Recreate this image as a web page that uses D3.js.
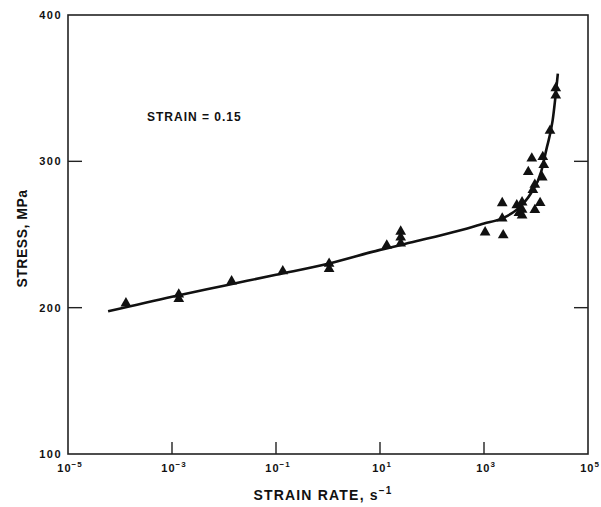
<!DOCTYPE html>
<html>
<head>
<meta charset="utf-8">
<script src="https://d3js.org/d3.v7.min.js"></script>
<style>
  body { margin: 0; background: #fff; }
  text { font-family: "Liberation Sans", Arial, sans-serif; font-weight: bold; fill: #111; }
</style>
</head>
<body>
<svg id="chart" width="601" height="507"></svg>
<script>
// fitted curve (strain rate s^-1, stress MPa)
const fitRate   = [5.9e-5, 1e-3, 1e-2, 0.1, 1, 10, 59, 250, 1000, 2240, 4270, 7940, 12600, 15800, 20900, 26300];
const fitStress = [197.5, 207.5, 215, 222.5, 230, 239.5, 246, 251.5, 257.5, 261, 267, 278, 293, 308, 328, 360];

// measured points
const ptRate   = [1.3e-4, 1.35e-3, 1.35e-3, 1.4e-2, 0.135, 1.05, 1.05, 13.5, 25, 25, 25,
                  1050, 2340, 2240, 2240, 4270, 4700, 5400, 5400, 5400, 7100, 8300, 8700, 9500, 9500,
                  12000, 13200, 13500, 14100, 18600, 24000, 24000];
const ptStress = [203, 209, 206, 218, 225, 230, 226.5, 242.5, 252, 248, 244,
                  251.5, 249.5, 271.5, 261, 270, 264.7, 272, 267, 263, 292.7, 302, 280.5, 284, 266.8,
                  271.6, 289, 303, 297.5, 321, 350, 345];

const xTicks = [1e-5, 1e-3, 1e-1, 1e1, 1e3, 1e5];
const yTicks = [100, 200, 300, 400];

const svg = d3.select('#chart');
const m = {left: 68, right: 588, top: 15, bottom: 454};

const x = d3.scaleLog().domain([1e-5, 1e5]).range([m.left, m.right]);
const y = d3.scaleLinear().domain([100, 400]).range([m.bottom, m.top]);

// frame
svg.append('rect')
  .attr('x', m.left).attr('y', m.top)
  .attr('width', m.right - m.left).attr('height', m.bottom - m.top)
  .attr('fill', 'none').attr('stroke', '#222').attr('stroke-width', 1.6);

// bottom ticks (inward) + labels
const xg = svg.append('g');
xg.selectAll('line')
  .data(xTicks.filter(d => d > 1e-5 && d < 1e5))
  .enter().append('line')
  .attr('x1', d => x(d)).attr('x2', d => x(d))
  .attr('y1', m.bottom).attr('y2', m.bottom - 12)
  .attr('stroke', '#222').attr('stroke-width', 1.4);

const xl = xg.selectAll('text')
  .data(xTicks)
  .enter().append('text')
  .attr('x', d => x(d) + 2)
  .attr('y', m.bottom + 18)
  .attr('text-anchor', 'middle')
  .style('font-size', '11px')
  .style('letter-spacing', '1px');
xl.append('tspan').text('10');
xl.append('tspan')
  .attr('dy', -5)
  .style('font-size', '8px')
  .text(d => d3.format('d')(Math.round(Math.log10(d))).replace('-', '\u2212'));

// left / right ticks (inward) + labels
const yg = svg.append('g');
yg.selectAll('line.l')
  .data(yTicks.filter(d => d > 100 && d < 400))
  .enter().append('line')
  .attr('x1', m.left).attr('x2', m.left + 14)
  .attr('y1', d => y(d)).attr('y2', d => y(d))
  .attr('stroke', '#222').attr('stroke-width', 1.4);
yg.selectAll('line.r')
  .data(yTicks.filter(d => d > 100 && d < 400))
  .enter().append('line')
  .attr('x1', m.right).attr('x2', m.right - 14)
  .attr('y1', d => y(d)).attr('y2', d => y(d))
  .attr('stroke', '#222').attr('stroke-width', 1.4);
yg.selectAll('text')
  .data(yTicks)
  .enter().append('text')
  .attr('x', m.left - 6)
  .attr('y', d => y(d) + 4)
  .attr('text-anchor', 'end')
  .style('font-size', '11px')
  .style('letter-spacing', '1.5px')
  .text(d => d);

// axis titles
svg.append('text')
  .attr('transform', `translate(27,${(m.top + m.bottom) / 2 + 4}) rotate(-90)`)
  .attr('text-anchor', 'middle')
  .style('font-size', '14px')
  .style('letter-spacing', '0.5px')
  .text('STRESS, MPa');

const xt = svg.append('text')
  .attr('x', 323).attr('y', 500)
  .attr('text-anchor', 'middle')
  .style('font-size', '14px')
  .style('letter-spacing', '1.2px');
xt.append('tspan').text('STRAIN RATE, s');
xt.append('tspan').attr('dy', -6).style('font-size', '10px').text('\u22121');

svg.append('text')
  .attr('x', 147).attr('y', 121)
  .style('font-size', '12px')
  .style('letter-spacing', '1px')
  .text('STRAIN = 0.15');

// fit line
const fit = fitRate.map((r, i) => [r, fitStress[i]]);
svg.append('path')
  .datum(fit)
  .attr('fill', 'none')
  .attr('stroke', '#111')
  .attr('stroke-width', 2.6)
  .attr('d', d3.line().x(d => x(d[0])).y(d => y(d[1])).curve(d3.curveMonotoneX));

// data triangles
const pts = ptRate.map((r, i) => [r, ptStress[i]]);
svg.append('g')
  .selectAll('path')
  .data(pts)
  .enter().append('path')
  .attr('transform', d => `translate(${x(d[0])},${y(d[1])})`)
  .attr('d', d3.symbol(d3.symbolTriangle, 50))
  .attr('fill', '#111');
</script>
</body>
</html>
